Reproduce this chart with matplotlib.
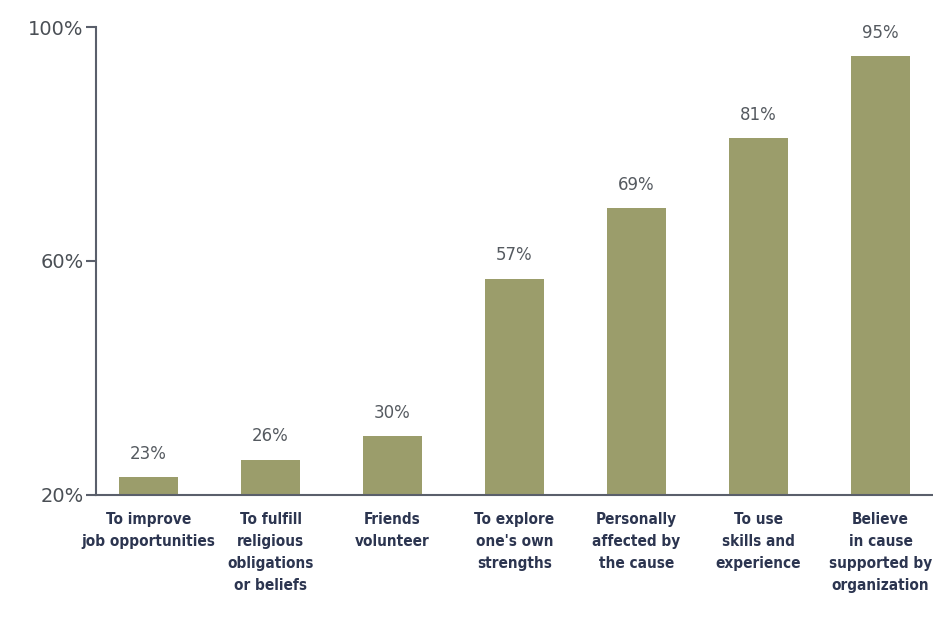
import matplotlib.pyplot as plt
import numpy as np

categories = ['To improve\njob opportunities', 'To fulfill\nreligious\nobligations\nor beliefs',
              'Friends\nvolunteer', "To explore\none's own\nstrengths", 'Personally\naffected by\nthe cause',
              'To use\nskills and\nexperience', 'Believe\nin cause\nsupported by\norganization']
values = [23, 26, 30, 57, 69, 81, 95]
yticks = [20, 60, 100]

bar_color = '#9b9d6b'
axis_color = '#5a5f6b'

fig = plt.figure(figsize=(9.33, 6.17), dpi=100)
ax = fig.add_axes([0.103, 0.198, 0.897, 0.758])

x = np.arange(len(values))
ax.bar(x, values, width=0.49, color=bar_color, bottom=0)
for xi, v in zip(x, values):
    ax.text(xi, v + 2.5, str(v) + '%', ha='center', va='bottom', fontsize=12, color='#555a60')

ax.set_ylim(20, 100)
ax.set_xlim(-0.43, 6.43)
ax.set_yticks(yticks)
ax.set_yticklabels([str(t) + '%' for t in yticks], fontsize=14, color='#4a4f55')
ax.set_xticks(x)
ax.set_xticklabels(categories, fontsize=11, color='#2c3550', fontstretch='condensed',
                   fontweight='semibold', linespacing=1.6)
ax.tick_params(axis='x', length=0, pad=12)
ax.tick_params(axis='y', length=7, width=1.5, color=axis_color, pad=2)
for s in ['top', 'right']:
    ax.spines[s].set_visible(False)
for s in ['left', 'bottom']:
    ax.spines[s].set_color(axis_color)
    ax.spines[s].set_linewidth(1.5)

fig.savefig('out.png', dpi=100)
